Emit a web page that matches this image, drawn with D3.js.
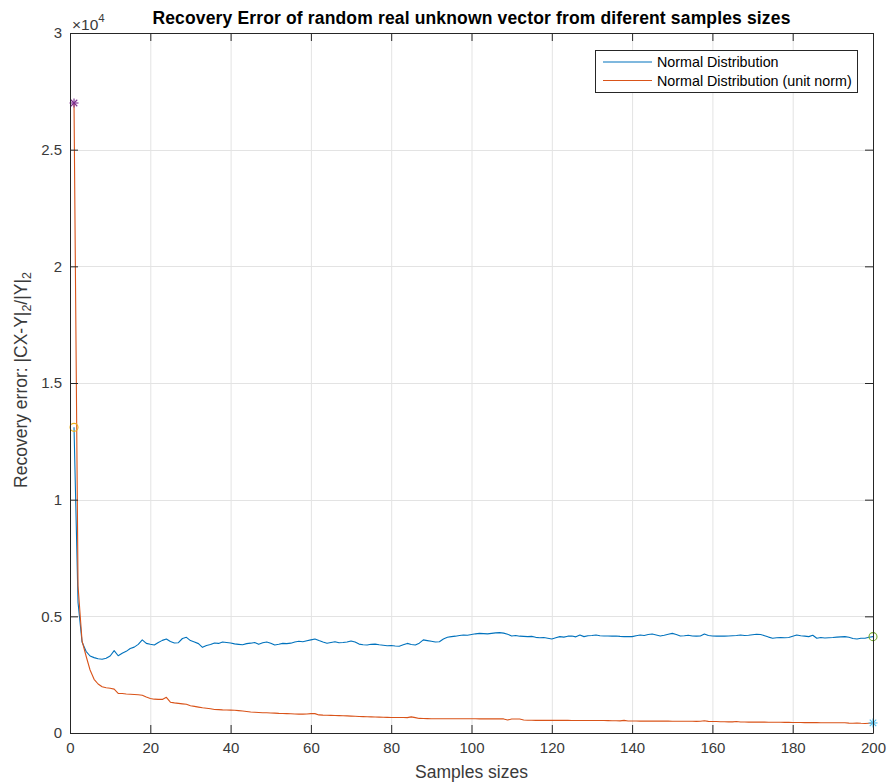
<!DOCTYPE html>
<html>
<head>
<meta charset="utf-8">
<script src="https://cdn.jsdelivr.net/npm/d3@7"></script>
<style>
  html, body { margin: 0; padding: 0; background: #fff; }
  svg { display: block; font-family: "Liberation Sans", Arial, Helvetica, sans-serif; }
</style>
</head>
<body>
<svg id="chart" width="889" height="782"></svg>
<script>
// ---------------- data ----------------
const sampleSizes = d3.range(1, 201);

const normalDist = [
  13100, 5600, 3900, 3500, 3300, 3230, 3180, 3160, 3200, 3300,
  3530, 3310, 3420, 3500, 3620, 3680, 3800, 3990, 3840, 3800,
  3770, 3880, 3970, 4030, 3920, 3860, 3870, 4050, 4100, 3960,
  3900, 3830, 3670, 3750, 3790, 3860, 3840, 3900, 3880, 3860,
  3820, 3800, 3780, 3830, 3850, 3880, 3800, 3870, 3900, 3850,
  3770, 3800, 3840, 3830, 3850, 3900, 3930, 3910, 3950, 3990,
  4030, 3960, 3900, 3850, 3880, 3910, 3870, 3880, 3900, 3940,
  3900, 3810, 3780, 3770, 3800, 3810, 3780, 3760, 3740, 3750,
  3730, 3720, 3780, 3840, 3790, 3770, 3850, 3990, 3960, 3930,
  3900, 3910, 4030, 4100, 4130, 4150, 4180, 4200, 4190, 4220,
  4250, 4270, 4260, 4250, 4270, 4290, 4300, 4280, 4230, 4160,
  4180, 4150, 4140, 4130, 4140, 4100, 4080, 4090, 4060, 4030,
  4080, 4130, 4110, 4150, 4160, 4120, 4200, 4130, 4170, 4180,
  4200, 4170, 4160, 4160, 4150, 4160, 4140, 4130, 4130, 4130,
  4170, 4200, 4180, 4220, 4240, 4200, 4160, 4190, 4230, 4270,
  4220, 4160, 4170, 4190, 4160, 4150, 4160, 4240, 4180, 4160,
  4150, 4160, 4150, 4160, 4170, 4180, 4200, 4180, 4190, 4210,
  4230, 4220, 4170, 4110, 4060, 4080, 4090, 4080, 4090, 4150,
  4200, 4170, 4150, 4130, 4190, 4060, 4090, 4070, 4080, 4090,
  4110, 4120, 4130, 4100, 4050, 4030, 4060, 4060, 4100, 4130
];

const unitNorm = [
  27000, 6300, 3950, 3300, 2700, 2300, 2100, 1980, 1940, 1920,
  1880, 1700, 1690, 1670, 1660, 1650, 1640, 1620, 1540, 1480,
  1450, 1440, 1440, 1530, 1320, 1290, 1270, 1250, 1230, 1170,
  1140, 1110, 1080, 1060, 1040, 1010, 1000, 990, 985, 980,
  975, 960, 940, 920, 900, 890, 880, 870, 865, 860,
  850, 840, 835, 830, 825, 815, 810, 810, 815, 830,
  830, 775, 765, 760, 755, 750, 745, 740, 735, 725,
  715, 705, 700, 695, 690, 685, 680, 675, 670, 665,
  665, 665, 665, 660, 690, 660, 625, 620, 615, 612,
  612, 612, 612, 610, 610, 610, 610, 610, 608, 608,
  608, 606, 606, 605, 605, 605, 604, 604, 555, 600,
  602, 600, 560, 545, 545, 543, 543, 542, 542, 540,
  540, 540, 540, 540, 538, 538, 538, 537, 537, 536,
  536, 535, 533, 530, 528, 525, 520, 540, 515, 512,
  512, 511, 510, 510, 509, 508, 508, 507, 507, 506,
  505, 505, 504, 503, 502, 500, 505, 525, 500, 495,
  490, 485, 480, 478, 475, 495, 472, 470, 468, 467,
  466, 465, 464, 463, 462, 460, 458, 456, 455, 452,
  450, 448, 446, 445, 444, 443, 442, 441, 440, 440,
  440, 440, 440, 425, 420, 430, 415, 410, 420, 430
];

const seriesNames = ["Normal Distribution", "Normal Distribution (unit norm)"];
const xTicks = [0, 20, 40, 60, 80, 100, 120, 140, 160, 180, 200];
const yTicks = [0, 5000, 10000, 15000, 20000, 25000, 30000];
const yTickLabels = ["0", "0.5", "1", "1.5", "2", "2.5", "3"];

// ---------------- layout ----------------
const svg = d3.select("#chart");
const L = 70, R = 873, T = 33, B = 733;
const x = d3.scaleLinear().domain([0, 200]).range([L, R]);
const y = d3.scaleLinear().domain([0, 30000]).range([B, T]);

const axisColor = "#262626";
const gridColor = "#e3e3e3";
const colors = ["#0072BD", "#D95319"];

// grid
const grid = svg.append("g");
grid.selectAll(".gx").data(xTicks.slice(1, -1)).enter().append("line")
  .attr("x1", d => x(d) + 0.5).attr("x2", d => x(d) + 0.5)
  .attr("y1", T).attr("y2", B)
  .attr("stroke", gridColor).attr("stroke-width", 1);
grid.selectAll(".gy").data(yTicks.slice(1, -1)).enter().append("line")
  .attr("x1", L).attr("x2", R)
  .attr("y1", d => Math.round(y(d)) + 0.5).attr("y2", d => Math.round(y(d)) + 0.5)
  .attr("stroke", gridColor).attr("stroke-width", 1);

// lines
const line = d3.line().x((d, i) => x(sampleSizes[i])).y(d => y(d));
[normalDist, unitNorm].forEach((vals, k) => {
  svg.append("path").datum(vals)
    .attr("fill", "none").attr("stroke", colors[k])
    .attr("stroke-width", 1.1).attr("stroke-linejoin", "round")
    .attr("d", line);
});

// markers
function star(g, cx, cy, r, col) {
  const s = g.append("g").attr("stroke", col).attr("stroke-width", 1.1);
  s.append("line").attr("x1", cx - r).attr("x2", cx + r).attr("y1", cy).attr("y2", cy);
  s.append("line").attr("x1", cx).attr("x2", cx).attr("y1", cy - r).attr("y2", cy + r);
  const q = r * 0.72;
  s.append("line").attr("x1", cx - q).attr("x2", cx + q).attr("y1", cy - q).attr("y2", cy + q);
  s.append("line").attr("x1", cx - q).attr("x2", cx + q).attr("y1", cy + q).attr("y2", cy - q);
}
const mk = svg.append("g");
const nLast = sampleSizes.length - 1;
mk.append("circle").attr("cx", x(sampleSizes[0])).attr("cy", y(normalDist[0])).attr("r", 4)
  .attr("fill", "none").attr("stroke", "#EDB120").attr("stroke-width", 1.1);
star(mk, x(sampleSizes[0]), y(unitNorm[0]), 4.5, "#7E2F8E");
mk.append("circle").attr("cx", x(sampleSizes[nLast])).attr("cy", y(normalDist[nLast])).attr("r", 4)
  .attr("fill", "none").attr("stroke", "#77AC30").attr("stroke-width", 1.1);
star(mk, x(sampleSizes[nLast]), y(unitNorm[nLast]), 4.5, "#4DBEEE");

// axes
const tickFont = 15;
function styleAxis(g) {
  g.selectAll("path.domain").attr("stroke", axisColor).attr("stroke-width", 1);
  g.selectAll(".tick line").attr("stroke", axisColor).attr("stroke-width", 1);
  g.selectAll(".tick text").attr("fill", "#3a3a3a").attr("font-size", tickFont)
    .attr("font-family", "Liberation Sans, Arial, sans-serif");
}
svg.append("g").attr("transform", `translate(0,${B})`)
  .call(d3.axisBottom(x).tickValues(xTicks).tickSizeInner(-8).tickSizeOuter(0).tickPadding(9).tickFormat(d3.format("d")))
  .call(styleAxis);
svg.append("g").attr("transform", `translate(0,${T})`)
  .call(d3.axisTop(x).tickValues(xTicks).tickSizeInner(-8).tickSizeOuter(0).tickFormat(""))
  .call(styleAxis);
svg.append("g").attr("transform", `translate(${L},0)`)
  .call(d3.axisLeft(y).tickValues(yTicks).tickSizeInner(-8).tickSizeOuter(0).tickPadding(8)
    .tickFormat((d, i) => yTickLabels[i]))
  .call(styleAxis);
svg.append("g").attr("transform", `translate(${R},0)`)
  .call(d3.axisRight(y).tickValues(yTicks).tickSizeInner(-8).tickSizeOuter(0).tickFormat(""))
  .call(styleAxis);

// exponent label
const ex = svg.append("text").attr("x", L + 2).attr("y", 30)
  .attr("fill", "#3a3a3a").attr("font-size", 15.5);
ex.append("tspan").text("\u00d710");
ex.append("tspan").attr("dy", -8).attr("font-size", 11.5).text("4");

// title
svg.append("text").attr("x", (L + R) / 2).attr("y", 24).attr("text-anchor", "middle")
  .attr("font-size", 17.5).attr("font-weight", "bold").attr("fill", "#000")
  .attr("letter-spacing", 0.15)
  .text("Recovery Error of random real unknown vector from diferent samples sizes");

// x label
svg.append("text").attr("x", (L + R) / 2).attr("y", 778).attr("text-anchor", "middle")
  .attr("font-size", 17.5).attr("fill", "#3a3a3a").text("Samples sizes");

// y label
const yl = svg.append("text").attr("transform", `translate(27,${(T + B) / 2 - 3}) rotate(-90)`)
  .attr("text-anchor", "middle").attr("font-size", 17.5).attr("fill", "#3a3a3a");
yl.append("tspan").text("Recovery error: |CX-Y|");
yl.append("tspan").attr("font-size", 12.5).attr("dy", 4).text("2");
yl.append("tspan").attr("dy", -4).text("/|Y|");
yl.append("tspan").attr("font-size", 12.5).attr("dy", 4).text("2");

// legend
const lg = svg.append("g");
const lgX = 595, lgY = 50, lgW = 262, lgH = 42;
lg.append("rect").attr("x", lgX + 0.5).attr("y", lgY + 0.5).attr("width", lgW).attr("height", lgH)
  .attr("fill", "#fff").attr("stroke", axisColor).attr("stroke-width", 1);
seriesNames.forEach((name, k) => {
  const cy = lgY + 12 + k * 18.5;
  lg.append("line").attr("x1", lgX + 8).attr("x2", lgX + 57).attr("y1", cy).attr("y2", cy)
    .attr("stroke", colors[k]).attr("stroke-width", 1.1);
  lg.append("text").attr("x", lgX + 62).attr("y", cy + 5).attr("font-size", 14.3)
    .attr("fill", "#000").text(name);
});
</script>
</body>
</html>
